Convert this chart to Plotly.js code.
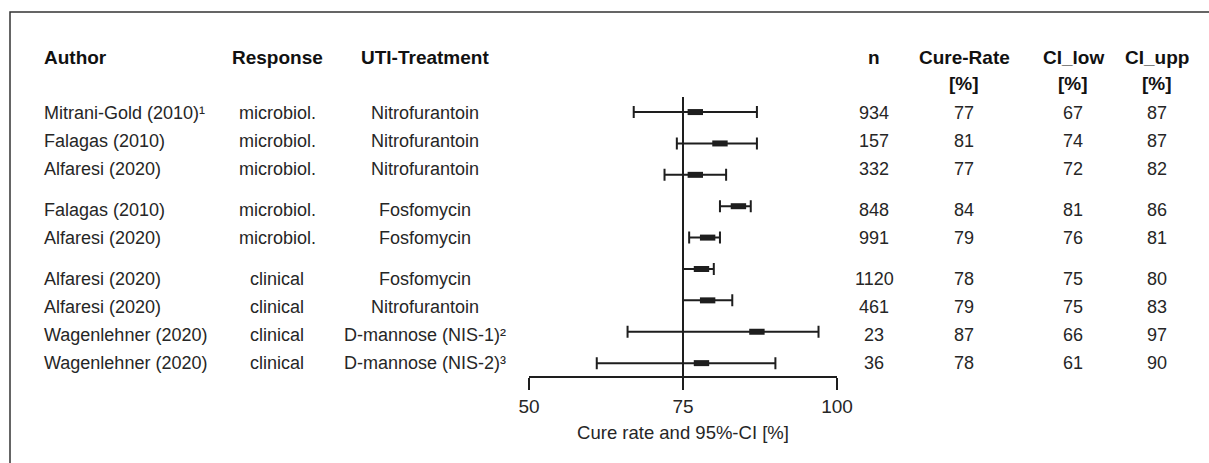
<!DOCTYPE html>
<html>
<head>
<meta charset="utf-8">
<script src="https://cdn.plot.ly/plotly-3.0.1.min.js"></script>
<style>html,body{margin:0;padding:0;background:#fff;}#chart{width:1209px;height:463px;}</style>
</head>
<body>
<div id="chart"></div>
<script>
// ---- data ----
var authors = ["Mitrani-Gold (2010)\u00b9", "Falagas (2010)", "Alfaresi (2020)", "Falagas (2010)", "Alfaresi (2020)", "Alfaresi (2020)", "Alfaresi (2020)", "Wagenlehner (2020)", "Wagenlehner (2020)"];
var responses = ["microbiol.", "microbiol.", "microbiol.", "microbiol.", "microbiol.", "clinical", "clinical", "clinical", "clinical"];
var treatments = ["Nitrofurantoin", "Nitrofurantoin", "Nitrofurantoin", "Fosfomycin", "Fosfomycin", "Fosfomycin", "Nitrofurantoin", "D-mannose (NIS-1)\u00b2", "D-mannose (NIS-2)\u00b3"];
var nVals = [934, 157, 332, 848, 991, 1120, 461, 23, 36];
var cureRate = [77, 81, 77, 84, 79, 78, 79, 87, 78];
var ciLow = [67, 74, 72, 81, 76, 75, 75, 66, 61];
var ciUpp = [87, 87, 82, 86, 81, 80, 83, 97, 90];
var groups = [0, 0, 0, 1, 1, 2, 2, 2, 2];
var headers = ["Author", "Response", "UTI-Treatment", "n", "Cure-Rate", "CI_low", "CI_upp"];
var headerUnits = ["", "", "", "", "[%]", "[%]", "[%]"];
var xTicks = [50, 75, 100];
var xTitle = "Cure rate and 95%-CI [%]";
var refValue = 75;

// ---- layout constants ----
var W = 1209, H = 463;
var FONT = "Liberation Sans, Arial, Helvetica, sans-serif";
var INK = "#1e1e1e";
var TXT = "#262626";
var plotLeft = 529, plotRight = 837, plotTop = 97, plotBottom = 376;
var rowIdx = cureRate.map(function (_, i) { return i; });
var colX = [42, 277, 425, 874, 964, 1073, 1157];
var colAnchor = ["left", "center", "center", "center", "center", "center", "center"];
var textRow0 = 113, textStep = 28, textGap = 13;
var head1Y = 58, head2Y = 83;

function py(p) { return 1 - p / H; }
function px(p) { return p / W; }

var trace = {
  type: "scatter",
  mode: "markers",
  x: cureRate,
  y: rowIdx,
  marker: { symbol: "line-ew", size: 11, color: INK, line: { color: INK, width: 6 } },
  error_x: {
    type: "data", symmetric: false,
    array: ciUpp.map(function (u, i) { return u - cureRate[i]; }),
    arrayminus: ciLow.map(function (l, i) { return cureRate[i] - l; }),
    color: INK, thickness: 2, width: 6
  },
  hoverinfo: "skip",
  showlegend: false
};

var ann = [];
function addText(text, x, y, anchor, bold, size) {
  ann.push({
    text: bold ? "<b>" + text + "</b>" : text,
    xref: "paper", yref: "paper", x: px(x), y: py(y),
    xanchor: anchor, yanchor: "middle", showarrow: false,
    font: { family: FONT, size: size, color: bold ? "#111" : TXT }
  });
}
headers.forEach(function (h, c) {
  addText(h, colX[c], head1Y, colAnchor[c], true, 19);
  if (headerUnits[c]) addText(headerUnits[c], colX[c], head2Y, colAnchor[c], true, 19);
});
var columns = [authors, responses, treatments, nVals, cureRate, ciLow, ciUpp];
columns.forEach(function (col, c) {
  col.forEach(function (v, i) {
    var y = textRow0 + textStep * i + textGap * groups[i];
    addText(String(v), colX[c], y, colAnchor[c], false, 18);
  });
});

var layout = {
  width: W, height: H,
  margin: { l: 0, r: 0, t: 0, b: 0 },
  paper_bgcolor: "#fff", plot_bgcolor: "rgba(0,0,0,0)",
  font: { family: FONT, color: INK },
  xaxis: {
    domain: [px(plotLeft), px(plotRight)],
    range: [xTicks[0], xTicks[xTicks.length - 1]],
    tickvals: xTicks, ticktext: xTicks.map(String),
    ticks: "outside", ticklen: 12, tickwidth: 2, tickcolor: INK,
    showline: true, linewidth: 2, linecolor: INK,
    showgrid: false, zeroline: false,
    tickfont: { family: FONT, size: 19, color: TXT },
    title: { text: xTitle, font: { family: FONT, size: 18.5, color: TXT }, standoff: 10 },
    fixedrange: true
  },
  yaxis: {
    domain: [py(plotBottom), py(plotTop)],
    range: [8.41, -0.48],
    visible: false, showgrid: false, zeroline: false, fixedrange: true
  },
  shapes: [
    { type: "line", xref: "x", yref: "y domain", x0: refValue, x1: refValue, y0: 0, y1: 1,
      line: { color: INK, width: 2 } },
    { type: "rect", xref: "paper", yref: "paper", x0: px(10), x1: 1.05, y0: -0.05, y1: py(12),
      line: { color: "#333", width: 1.5 }, fillcolor: "rgba(0,0,0,0)" }
  ],
  annotations: ann
};

Plotly.newPlot("chart", [trace], layout, { displayModeBar: false, staticPlot: true });
</script>
</body>
</html>
